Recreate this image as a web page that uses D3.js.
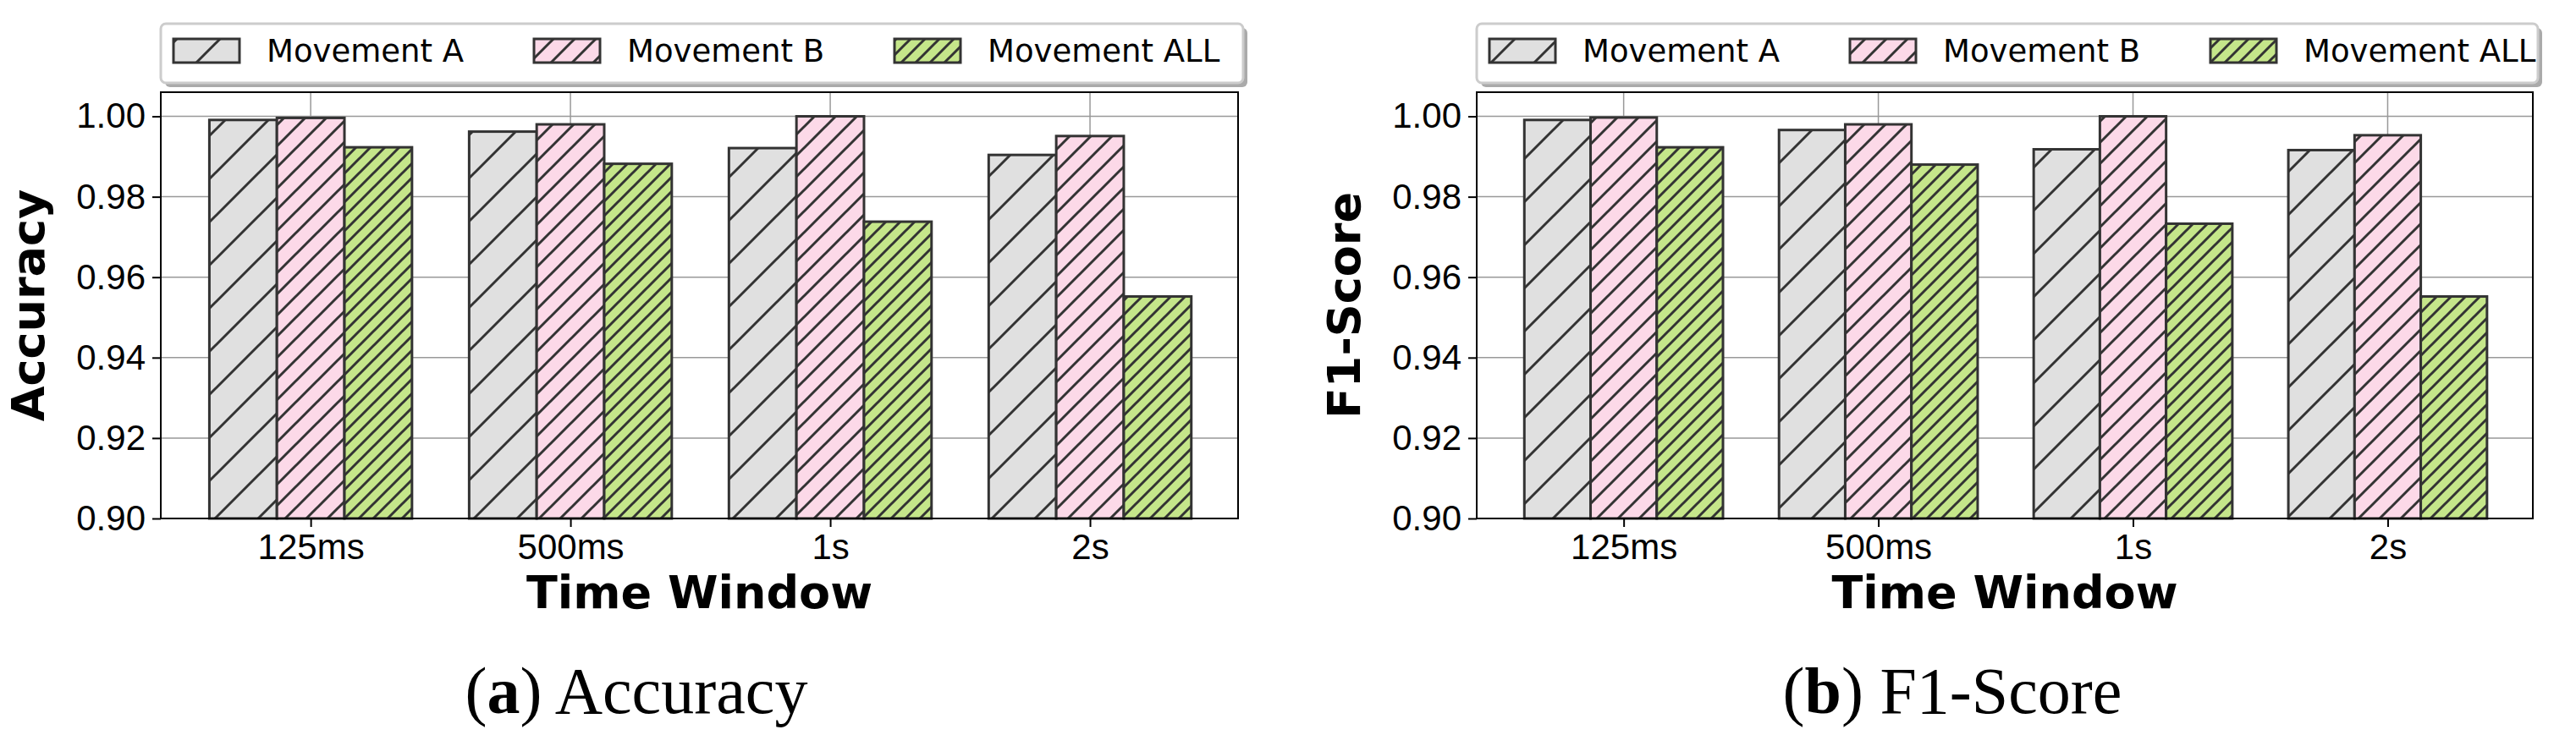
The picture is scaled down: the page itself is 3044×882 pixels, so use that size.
<!DOCTYPE html>
<html><head><meta charset="utf-8">
<script src="https://cdn.jsdelivr.net/npm/d3@7"></script>
<style>body{margin:0;background:#fff}</style>
</head><body>
<script>
let categories = ["125ms", "500ms", "1s", "2s"];
let seriesNames = ["Movement A", "Movement B", "Movement ALL"];
let accA = [0.9991, 0.9962, 0.9921, 0.9904];
let accB = [0.9996, 0.9980, 1.0000, 0.9951];
let accAll = [0.9923, 0.9882, 0.9738, 0.9552];
let f1A = [0.9991, 0.9966, 0.9918, 0.9916];
let f1B = [0.9997, 0.9980, 1.0000, 0.9953];
let f1All = [0.9923, 0.9880, 0.9733, 0.9552];
let yTicks = [0.90, 0.92, 0.94, 0.96, 0.98, 1.00];

let fills = ["#e0e0e0", "#fcd9e8", "#c5e68a"];
let hatchSize = [51, 25, 17];
let fmt = d3.format(".2f");

let svg = d3.select("body").append("svg")
    .attr("width", 3044).attr("height", 882)
    .style("font-family", "DejaVu Sans");

let defs = svg.append("defs");
fills.forEach(function(c, i) {
  let s = hatchSize[i];
  let p = defs.append("pattern")
      .attr("id", "hatch" + i)
      .attr("patternUnits", "userSpaceOnUse")
      .attr("width", s).attr("height", s);
  p.append("rect").attr("width", s).attr("height", s).attr("fill", c);
  p.append("path")
      .attr("d", `M-2,2 L2,-2 M0,${s} L${s},0 M${s-2},${s+2} L${s+2},${s-2}`)
      .attr("stroke", "#333").attr("stroke-width", 3);
});
let shadow = defs.append("filter").attr("id", "shadow");

function drawPanel(o) {
  let g = svg.append("g");
  let x = d3.scaleLinear().domain([-0.577, 3.57]).range([o.left, o.right]);
  let y = d3.scaleLinear().domain([0.9, 1.006]).range([613, 109]);
  let bw = x(0.26) - x(0);

  // grid
  g.selectAll(".gy").data(yTicks).join("line")
      .attr("x1", o.left).attr("x2", o.right)
      .attr("y1", d => y(d)).attr("y2", d => y(d))
      .attr("stroke", "#999").attr("stroke-width", 1.5);
  g.selectAll(".gx").data(categories).join("line")
      .attr("x1", (d, i) => x(i)).attr("x2", (d, i) => x(i))
      .attr("y1", 109).attr("y2", 613)
      .attr("stroke", "#999").attr("stroke-width", 1.5);

  // bars
  o.series.forEach(function(vals, s) {
    g.selectAll(".b" + s).data(vals).join("rect")
        .attr("x", (d, i) => x(i + (s - 1) * 0.26) - bw / 2)
        .attr("width", bw)
        .attr("y", d => y(d))
        .attr("height", d => y(0.9) - y(d))
        .attr("fill", "url(#hatch" + s + ")")
        .attr("stroke", "#333").attr("stroke-width", 3);
  });

  // frame
  g.append("rect").attr("x", o.left).attr("y", 109)
      .attr("width", o.right - o.left).attr("height", 613 - 109)
      .attr("fill", "none").attr("stroke", "#000").attr("stroke-width", 2);

  let ax = g.append("g").attr("transform", "translate(0,613)")
      .call(d3.axisBottom(x).tickValues([0, 1, 2, 3]).tickFormat(i => categories[i])
            .tickSize(10).tickPadding(8));
  ax.select(".domain").remove();
  ax.selectAll("line").attr("stroke", "#000").attr("stroke-width", 2);
  ax.selectAll("text").attr("font-size", 42).attr("fill", "#000");

  let ay = g.append("g").attr("transform", `translate(${o.left},0)`)
      .call(d3.axisLeft(y).tickValues(yTicks).tickFormat(fmt).tickSize(10).tickPadding(8));
  ay.select(".domain").remove();
  ay.selectAll("line").attr("stroke", "#000").attr("stroke-width", 2);
  ay.selectAll("text").attr("font-size", 42).attr("fill", "#000");

  g.append("text").attr("x", (o.left + o.right) / 2).attr("y", 719)
      .attr("text-anchor", "middle").attr("font-weight", "bold").attr("font-size", 54)
      .text("Time Window");
  g.append("text")
      .attr("transform", `translate(${o.left - 138},${(109 + 613) / 2}) rotate(-90)`)
      .attr("text-anchor", "middle").attr("font-weight", "bold").attr("font-size", 54)
      .text(o.ylabel);

  // legend
  let lx = o.left, lw = o.right - o.left + 6;
  g.append("rect").attr("x", lx + 5).attr("y", 33).attr("width", lw).attr("height", 70)
      .attr("rx", 6).attr("fill", "#aaa");
  g.append("rect").attr("x", lx).attr("y", 28).attr("width", lw).attr("height", 70)
      .attr("rx", 6).attr("fill", "#fff").attr("stroke", "#ccc").attr("stroke-width", 3);
  seriesNames.forEach(function(n, i) {
    let px = lx + 15 + i * 426;
    g.append("rect").attr("x", px).attr("y", 46).attr("width", 78).attr("height", 28)
        .attr("fill", "url(#hatch" + i + ")").attr("stroke", "#333").attr("stroke-width", 3);
    g.append("text").attr("x", px + 110).attr("y", 73).attr("font-size", 37).text(n);
  });

  // caption
  let cap = g.append("text").attr("x", o.cap).attr("y", 843)
      .attr("text-anchor", "middle").attr("font-family", "Liberation Serif")
      .attr("font-size", 78);
  cap.append("tspan").text("(");
  cap.append("tspan").attr("font-weight", "bold").text(o.letter);
  cap.append("tspan").text(") " + o.ylabel);
}

drawPanel({left: 190, right: 1463, ylabel: "Accuracy", letter: "a", cap: 752,
           series: [accA, accB, accAll]});
drawPanel({left: 1745, right: 2993, ylabel: "F1-Score", letter: "b", cap: 2307,
           series: [f1A, f1B, f1All]});
</script>
</body></html>
